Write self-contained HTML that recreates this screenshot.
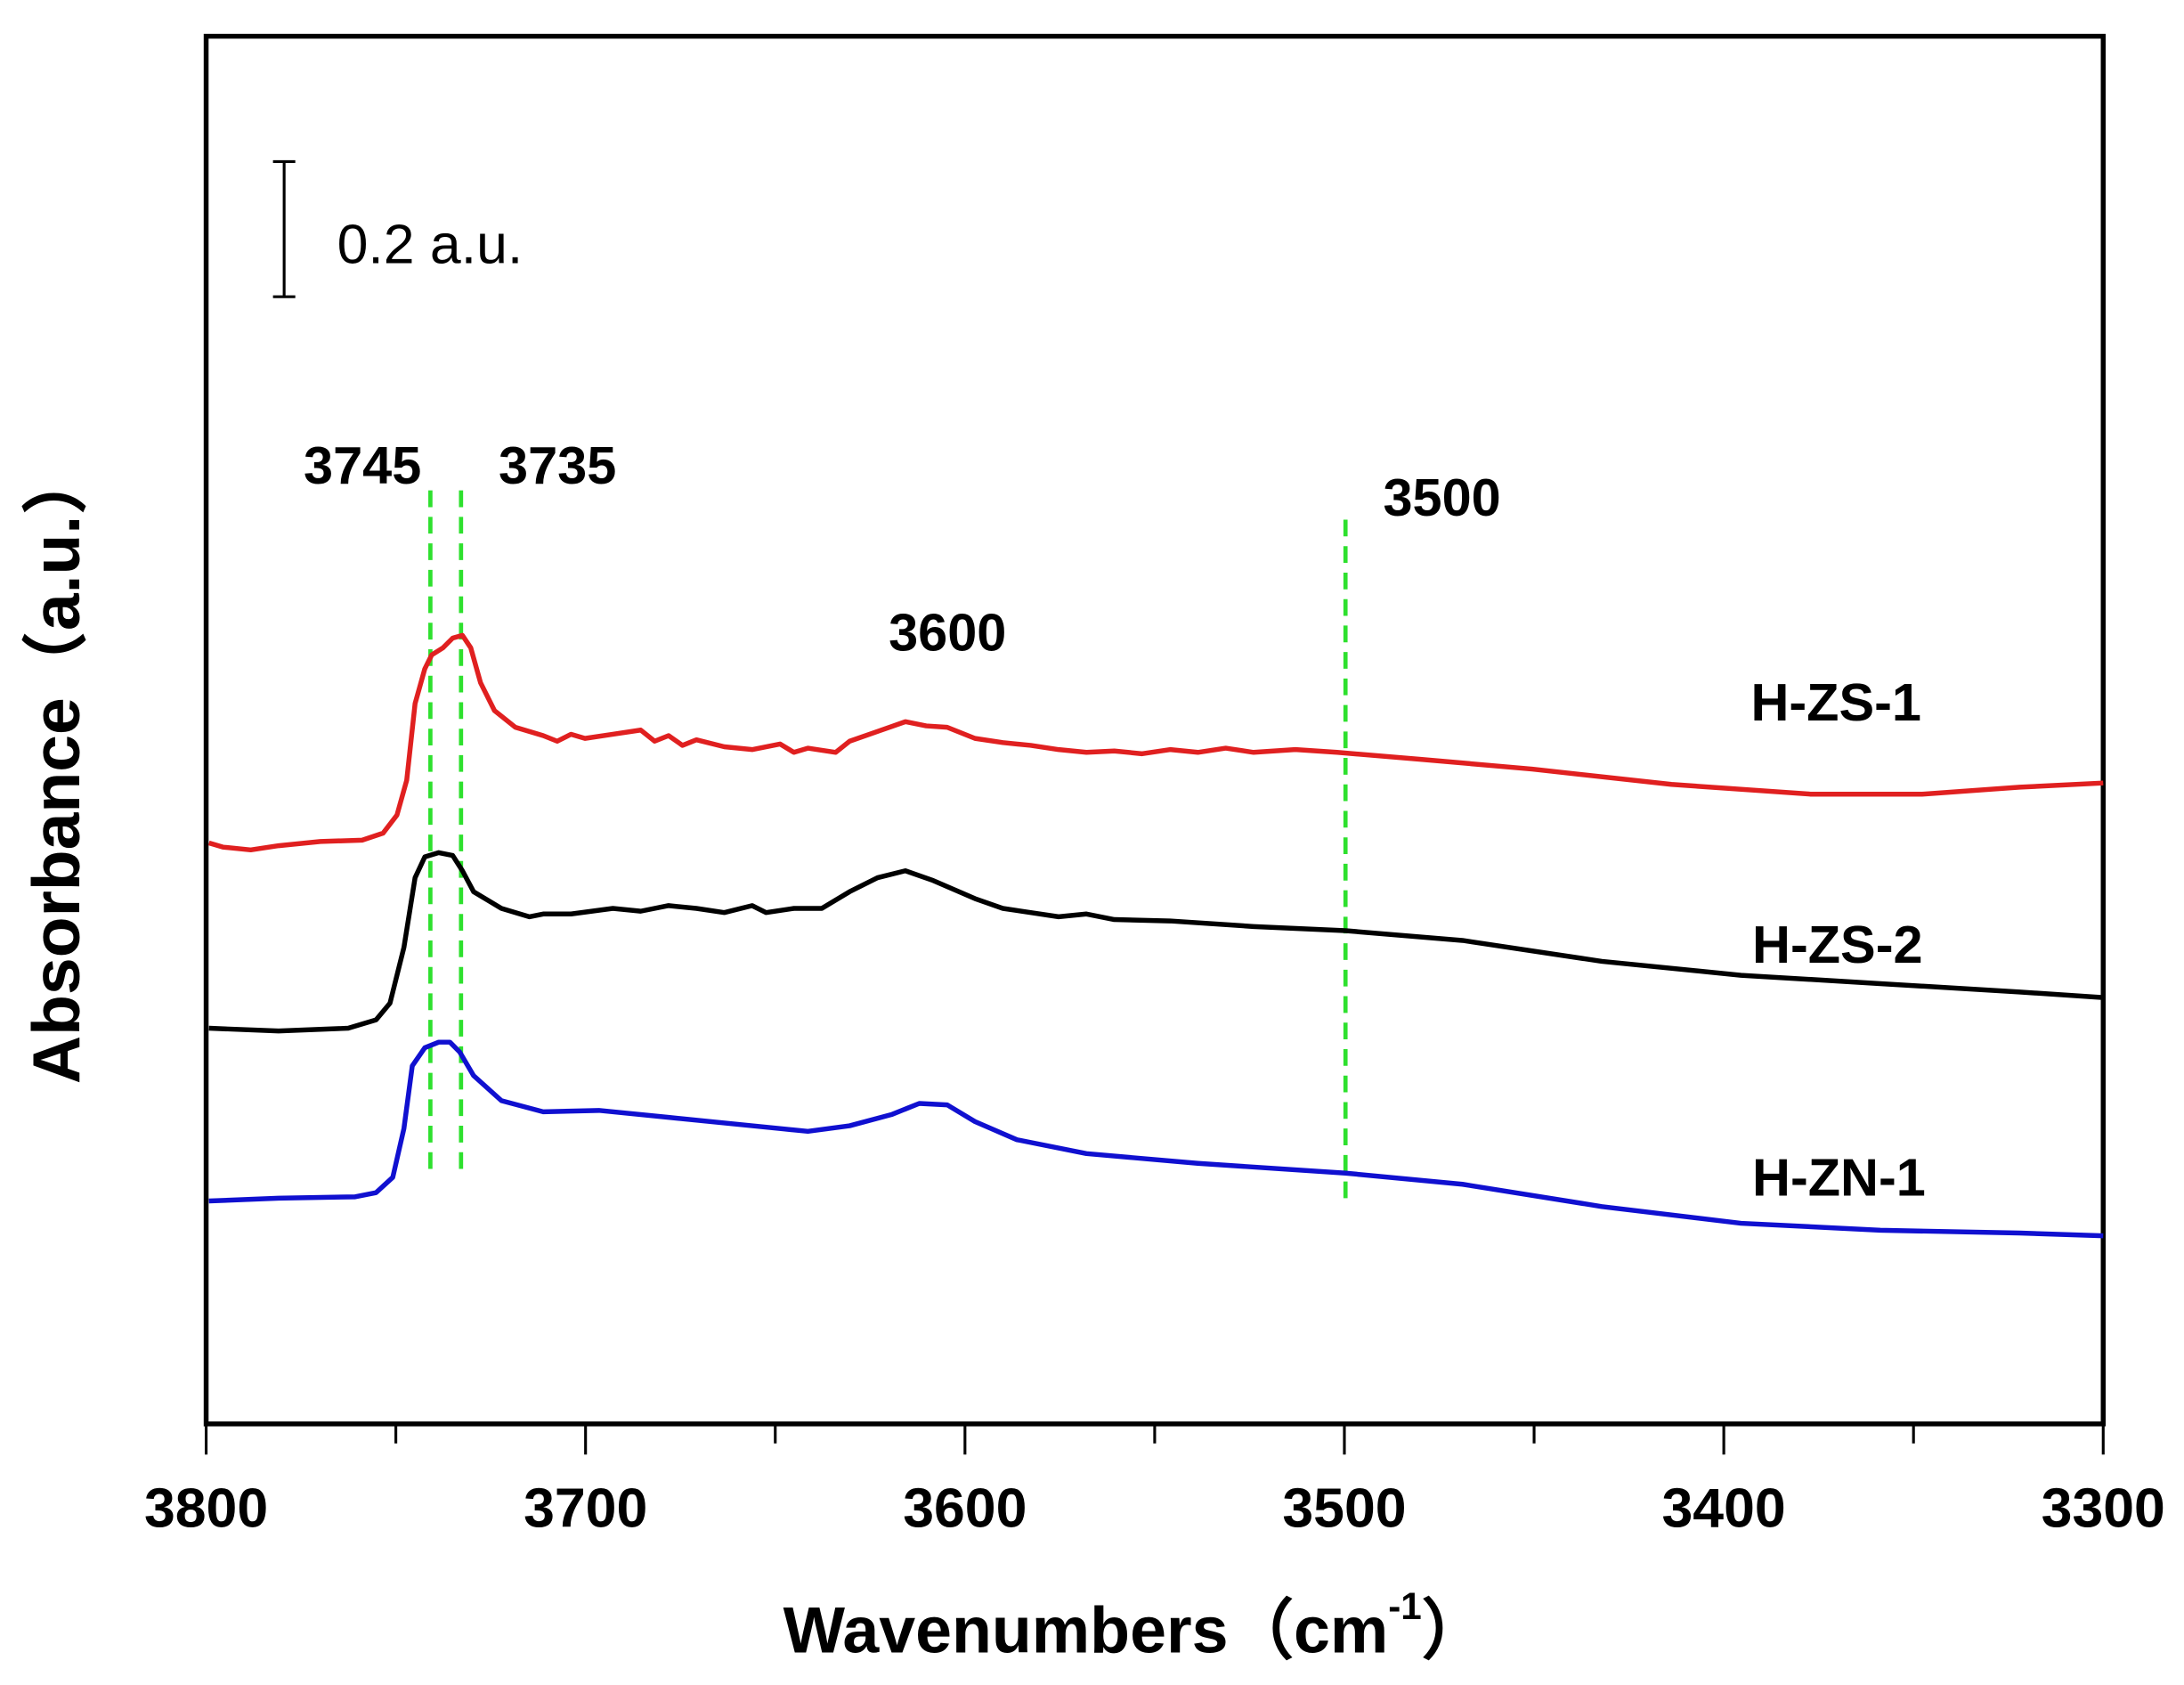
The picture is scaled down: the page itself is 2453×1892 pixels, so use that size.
<!DOCTYPE html>
<html><head><meta charset="utf-8"><style>html,body{margin:0;padding:0;background:#fff}svg{display:block}</style></head>
<body>
<svg width="2453" height="1892" viewBox="0 0 1568 1209.4" preserveAspectRatio="none" xmlns="http://www.w3.org/2000/svg">
<rect width="1568" height="1209.4" fill="#fff"/>
<rect x="148" y="26" width="1362" height="996" fill="none" stroke="#000" stroke-width="3.5"/>
<g stroke="#000" stroke-width="2">
<line x1="148" y1="1022" x2="148" y2="1044"/><line x1="284.2" y1="1022" x2="284.2" y2="1036"/>
<line x1="420.4" y1="1022" x2="420.4" y2="1044"/><line x1="556.6" y1="1022" x2="556.6" y2="1036"/>
<line x1="692.8" y1="1022" x2="692.8" y2="1044"/><line x1="829" y1="1022" x2="829" y2="1036"/>
<line x1="965.2" y1="1022" x2="965.2" y2="1044"/><line x1="1101.4" y1="1022" x2="1101.4" y2="1036"/>
<line x1="1237.6" y1="1022" x2="1237.6" y2="1044"/><line x1="1373.8" y1="1022" x2="1373.8" y2="1036"/>
<line x1="1510" y1="1022" x2="1510" y2="1044"/>
</g>
<g font-family="Liberation Sans, sans-serif" font-weight="bold" font-size="40" text-anchor="middle" fill="#000">
<text x="148" y="1096">3800</text><text x="420.4" y="1096">3700</text><text x="692.8" y="1096">3600</text>
<text x="965.2" y="1096">3500</text><text x="1237.6" y="1096">3400</text><text x="1510" y="1096">3300</text>
<text x="815" y="1186" font-size="47">Wavenumbers（cm<tspan dy="-24" font-size="27">-1</tspan><tspan dy="24">）</tspan></text>
<text transform="translate(57,550) rotate(-90)" font-size="48" font-family="Liberation Sans, Noto Sans CJK SC, sans-serif">Absorbance（a.u.）</text>
</g>
<g stroke="#000" stroke-width="2"><line x1="204" y1="116" x2="204" y2="213"/><line x1="196" y1="116" x2="212" y2="116"/><line x1="196" y1="213" x2="212" y2="213"/></g>
<text x="242" y="189" font-family="Liberation Sans, sans-serif" font-size="40" fill="#000">0.2 a.u.</text>
<g stroke="#2ee02e" stroke-width="3" stroke-dasharray="12,7">
<line x1="309" y1="352" x2="309" y2="845"/><line x1="331" y1="352" x2="331" y2="845"/>
<line x1="966" y1="373" x2="966" y2="862"/>
</g>
<g font-family="Liberation Sans, sans-serif" font-weight="bold" font-size="38" fill="#000">
<text x="218" y="347">3745</text><text x="358" y="347">3735</text><text x="993" y="370">3500</text><text x="638" y="467">3600</text>
<text x="1257" y="517">H-ZS-1</text><text x="1258" y="691">H-ZS-2</text><text x="1258" y="858">H-ZN-1</text>
</g>
<g fill="none" stroke-width="3.5" stroke-linejoin="round">
<polyline stroke="#e02020" points="150,605 160,608 180,610 200,607 230,604 260,603 275,598 285,585 292,560 298,505 305,480 310,470 318,465 325,458 332,456 338,465 345,490 355,510 370,522 390,528 400,532 410,527 420,530 440,527 460,524 470,532 480,528 490,535 500,531 520,536 540,538 560,534 570,540 580,537 600,540 610,532 630,525 650,518 665,521 680,522 700,530 720,533 740,535 760,538 780,540 800,539 820,541 840,538 860,540 880,537 900,540 930,538 960,540 1020,545 1100,552 1200,563 1300,570 1380,570 1450,565 1510,562"/>
<polyline stroke="#000" points="150,738 200,740 250,738 270,732 280,720 290,680 298,630 305,615 315,612 325,614 332,625 340,640 360,652 380,658 390,656 410,656 440,652 460,654 480,650 500,652 520,655 540,650 550,655 570,652 590,652 610,640 630,630 650,625 670,632 700,645 720,652 740,655 760,658 780,656 800,660 840,661 900,665 966,668 1050,675 1150,690 1250,700 1350,706 1450,712 1510,716"/>
<polyline stroke="#1010d0" points="150,862 200,860 255,859 270,856 282,845 290,810 296,765 305,752 315,748 323,748 330,755 340,772 360,790 390,798 430,797 480,802 540,808 580,812 610,808 640,800 660,792 680,793 700,805 730,818 780,828 860,835 966,842 1050,850 1150,866 1250,878 1350,883 1450,885 1510,887"/>
</g>
</svg>
</body></html>
